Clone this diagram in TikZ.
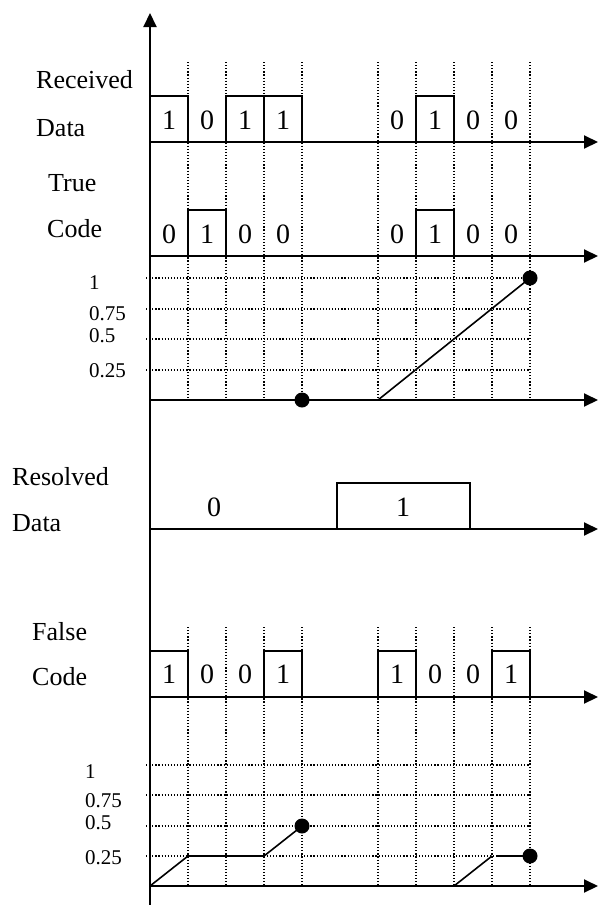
\documentclass[tikz,border=0pt]{standalone}
\usepackage{fontspec}
\setmainfont{Liberation Serif}
\usepackage{tikz}
\usetikzlibrary{arrows.meta}

\tikzset{
  axis/.style={line width=2pt, -{Triangle[length=14pt,width=13pt]}},
  pulse/.style={line width=2pt},
  gridline/.style={line width=1.2pt, dash pattern=on 1.2pt off 1.9pt},
  curve/.style={line width=1.6pt},
  bit/.style={anchor=base, inner sep=0pt, font=\fontsize{28}{30}\selectfont},
  rowlabel/.style={anchor=west, inner sep=0pt, font=\fontsize{26}{30}\selectfont},
  ticklabel/.style={anchor=west, inner sep=0pt, font=\fontsize{21}{24}\selectfont},
  dot/.style={circle, fill=black, inner sep=0pt, minimum size=15pt},
}

\begin{document}
\begin{tikzpicture}[x=1pt, y=-1pt]
          \useasboundingbox (0,0) rectangle (598,905);
          % dotted grid
          \foreach \x in {188,226,264,302,378,416,454,492,530} {
            \draw [gridline] (\x,62) -- (\x,400);
            \draw [gridline] (\x,627) -- (\x,886);
          }
          \foreach \y in {278,309,339,370,765,795,826,856}
            \draw [gridline] (146,\y) -- (530,\y);
          % axes
          \draw [axis] (150,905) -- (150,13);
          \foreach \y in {142,256,400,529,697,886}
            \draw [axis] (150,\y) -- (598,\y);
          % row labels
          \node [rowlabel] (recv) at (36,80) {Received};
          \node [rowlabel] (recvdata) at (36,128) {Data};
          \node [rowlabel] (true) at (48,183) {True};
          \node [rowlabel] (truecode) at (47,229) {Code};
          \node [rowlabel] (resolved) at (12,477) {Resolved};
          \node [rowlabel] (resdata) at (12,523) {Data};
          \node [rowlabel] (false) at (32,632) {False};
          \node [rowlabel] (falsecode) at (32,677) {Code};
          % tick labels
          \foreach \v/\y [count=\i] in {1/283,0.75/314,0.5/336,0.25/371}
            \node [ticklabel] (tickA\i) at (89,\y) {\v};
          \foreach \v/\y [count=\i] in {1/772,0.75/801,0.5/823,0.25/858}
            \node [ticklabel] (tickB\i) at (85,\y) {\v};
          % received data
          \draw [pulse] (150,142) rectangle (188,96);
          \draw [pulse] (226,142) rectangle (264,96);
          \draw [pulse] (264,142) rectangle (302,96);
          \draw [pulse] (416,142) rectangle (454,96);
          \foreach \x/\b in {169/1,207/0,245/1,283/1,397/0,435/1,473/0,511/0}
            \node [bit] (rd\x) at (\x,129) {\b};
          % true code
          \draw [pulse] (188,256) rectangle (226,210);
          \draw [pulse] (416,256) rectangle (454,210);
          \foreach \x/\b in {169/0,207/1,245/0,283/0,397/0,435/1,473/0,511/0}
            \node [bit] (tc\x) at (\x,243) {\b};
          % correlation, true code
          \coordinate (riseA) at (378,400);
          \node [dot] (lowA) at (302,400) {};
          \node [dot] (peakA) at (530,278) {};
          \draw [curve] (riseA) -- (peakA.center);
          % resolved data
          \draw [pulse] (337,529) rectangle (470,483);
          \node [bit] (res0) at (214,516) {0};
          \node [bit] (res1) at (403,516) {1};
          % false code
          \draw [pulse] (150,697) rectangle (188,651);
          \draw [pulse] (264,697) rectangle (302,651);
          \draw [pulse] (378,697) rectangle (416,651);
          \draw [pulse] (492,697) rectangle (530,651);
          \foreach \x/\b in {169/1,207/0,245/0,283/1,397/1,435/0,473/0,511/1}
            \node [bit] (fc\x) at (\x,683) {\b};
          % correlation, false code
          \coordinate (startB) at (150,886);
          \coordinate (riseC) at (454,886);
          \coordinate (flatC) at (498,856);
          \node [dot] (endB) at (302,826) {};
          \node [dot] (endC) at (530,856) {};
          \draw [curve] (startB) -- (188,856) -- (264,856) -- (endB.center);
          \draw [curve] (riseC) -- (492,856);
          \draw [curve] (flatC) -- (endC.center);
\end{tikzpicture}
\end{document}
